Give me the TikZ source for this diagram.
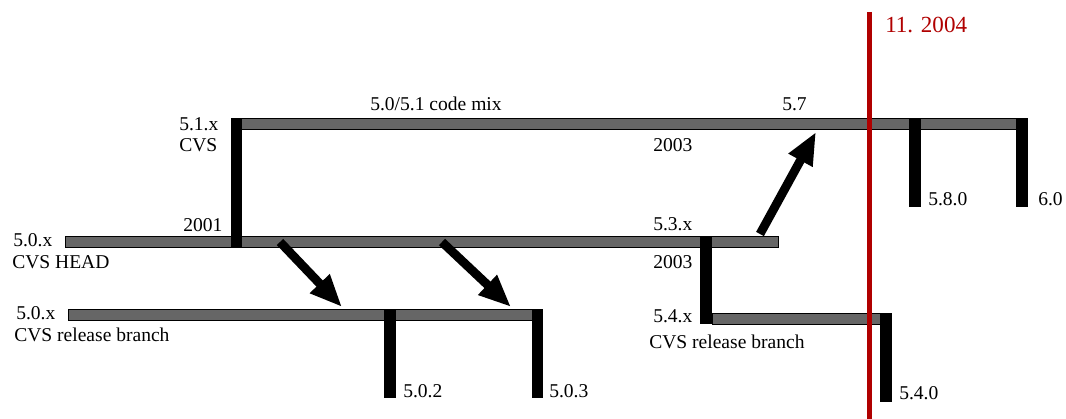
\documentclass[tikz,border=0pt]{standalone}
\usepackage{fontspec}
\setmainfont{Liberation Serif}
\usetikzlibrary{arrows.meta, positioning, calc}
\definecolor{bargray}{HTML}{666666}
\definecolor{dateRed}{RGB}{176,0,0}

\begin{document}
\begin{tikzpicture}[x=0.025cm, y=-0.025cm,
        branch/.style={draw=black, line width=0.6pt, fill=bargray},
        tagbar/.style={fill=black},
        lbl/.style={anchor=base west, inner sep=0pt, font=\fontsize{13.9}{16}\selectfont},
        merge/.style={line width=6.3pt, -{Triangle[length=23pt, width=18pt]}}]
        \useasboundingbox (0,0) rectangle (1066,419);
        % Branches
        \draw [branch] (236,118) rectangle (1027,129);
        \draw [branch] (65,236) rectangle (778,247);
        \draw [branch] (68,309) rectangle (538,320);
        \draw [branch] (712,313) rectangle (886,324);
        % Tags and branch points
        \fill [tagbar] (231,118) rectangle (242,247);
        \fill [tagbar] (909,118) rectangle (921,207);
        \fill [tagbar] (1016,118) rectangle (1028,207);
        \fill [tagbar] (700,236) rectangle (712,324);
        \fill [tagbar] (880,313) rectangle (892,402);
        \fill [tagbar] (384,309) rectangle (396,398);
        \fill [tagbar] (532,309) rectangle (543,398);
        % Merges
        \coordinate (headA) at (280,242);
        \coordinate (relA) at (342,307);
        \coordinate (headB) at (442,242);
        \coordinate (relB) at (511,307);
        \coordinate (head53) at (760,234);
        \coordinate (top57) at (816,132);
        \draw [merge] (headA) -- (relA);
        \draw [merge] (headB) -- (relB);
        \draw [merge] (head53) -- (top57);
        % Date line
        \coordinate (dateTop) at (869.5,12);
        \coordinate (dateBot) at (869.5,419);
        \draw [dateRed, line width=3.5pt] (dateTop) -- (dateBot);
        \node [lbl, text=dateRed, font=\fontsize{16.4}{19}\selectfont] (date) at (885,33) {11. 2004};
        % Labels
        \node [lbl] (mix) at (370,111) {5.0/5.1 code mix};
        \node [lbl] (v57) at (782,111) {5.7};
        \node [lbl] (y57) at (653,152) {2003};
        \node [lbl] (v51) at (179,131) {5.1.x};
        \node [lbl] (cvs51) at (179,152) {CVS};
        \node [lbl] (y51) at (183,232) {2001};
        \node [lbl] (v50) at (13,247) {5.0.x};
        \node [lbl] (head) at (12,269) {CVS HEAD};
        \node [lbl] (v50r) at (16,320) {5.0.x};
        \node [lbl] (rel50) at (14,342) {CVS release branch};
        \node [lbl] (v502) at (403,397) {5.0.2};
        \node [lbl] (v503) at (549,397) {5.0.3};
        \node [lbl] (v53) at (653,231) {5.3.x};
        \node [lbl] (y54) at (653,269) {2003};
        \node [lbl] (v54) at (653,323) {5.4.x};
        \node [lbl] (rel54) at (649,349) {CVS release branch};
        \node [lbl] (v540) at (899,400) {5.4.0};
        \node [lbl] (v580) at (928,206) {5.8.0};
        \node [lbl] (v60) at (1038,206) {6.0};
    \end{tikzpicture}
\end{document}
